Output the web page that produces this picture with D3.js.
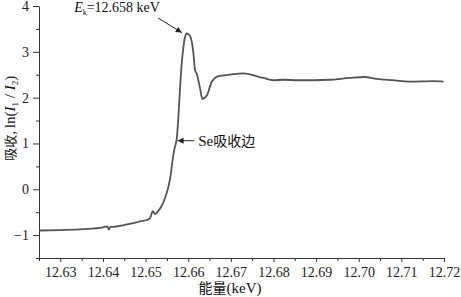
<!DOCTYPE html>
<html>
<head>
<meta charset="utf-8">
<script src="https://cdn.jsdelivr.net/npm/d3@7"></script>
<style>
body { margin: 0; background: #fff; }
svg { display: block; }
.axis text { font-family: "Liberation Serif", "Times New Roman", serif; font-size: 14px; fill: #222; }
.axis path, .axis line { stroke: #333; stroke-width: 1; }
</style>
</head>
<body>
<div id="chart"></div>
<script>
// XAS spectrum around Se K-edge
var energy = [12.6251, 12.6300, 12.6354, 12.6400, 12.6410, 12.6414, 12.6418, 12.6424, 12.6450, 12.6471,
    12.6487, 12.6503, 12.6511, 12.6517, 12.6522, 12.6530, 12.6538, 12.6546, 12.6554, 12.6559,
    12.6563, 12.6567, 12.6573, 12.6585, 12.6592, 12.6597, 12.6604, 12.6612, 12.6616, 12.6620,
    12.6628, 12.6633, 12.6644, 12.6655, 12.6671, 12.6698, 12.6729, 12.6776, 12.6800, 12.6822,
    12.6860, 12.6893, 12.6932, 12.6979, 12.7014, 12.7042, 12.7080, 12.7120, 12.7174, 12.7199];
var absorb = [-0.90, -0.89, -0.87, -0.83, -0.81, -0.88, -0.82, -0.82, -0.78, -0.74,
    -0.70, -0.67, -0.62, -0.48, -0.54, -0.47, -0.36, -0.18, 0.07, 0.32,
    0.61, 0.85, 1.10, 2.77, 3.30, 3.40, 3.35, 2.99, 2.60, 2.52,
    2.19, 1.97, 2.05, 2.34, 2.47, 2.50, 2.53, 2.43, 2.38, 2.39,
    2.38, 2.38, 2.39, 2.43, 2.45, 2.41, 2.38, 2.35, 2.36, 2.35];

var xTicks = [12.63, 12.64, 12.65, 12.66, 12.67, 12.68, 12.69, 12.70, 12.71, 12.72];
var xMinor = [12.625, 12.635, 12.645, 12.655, 12.665, 12.675, 12.685, 12.695, 12.705, 12.715];
var yTicks = [-1, 0, 1, 2, 3, 4];
var yMinor = [-1.5, -0.5, 0.5, 1.5, 2.5, 3.5];

var edgeLabel = {x0: 12.6529, y0: 3.74, x1: 12.6585, y1: 3.42};
var seLabel = {x0: 12.6614, x1: 12.6575, y: 1.06};

var width = 461, height = 297;
var margin = {top: 6, left: 39, bottom: 39, right: 17};

var svg = d3.select("#chart").append("svg")
    .attr("width", width)
    .attr("height", height);

var x = d3.scaleLinear()
    .domain([12.625, 12.72])
    .range([margin.left, width - margin.right]);

var y = d3.scaleLinear()
    .domain([-1.5, 4])
    .range([height - margin.bottom, margin.top]);

// minor ticks
svg.append("g").attr("class", "axis")
    .attr("transform", "translate(0," + y(-1.5) + ")")
    .call(d3.axisBottom(x).tickValues(xMinor).tickSize(3).tickSizeOuter(0).tickFormat(""))
    .select(".domain").remove();
svg.append("g").attr("class", "axis")
    .attr("transform", "translate(" + x(12.625) + ",0)")
    .call(d3.axisLeft(y).tickValues(yMinor).tickSize(3).tickSizeOuter(0).tickFormat(""))
    .select(".domain").remove();

svg.append("g").attr("class", "axis")
    .attr("transform", "translate(0," + y(-1.5) + ")")
    .call(d3.axisBottom(x).tickValues(xTicks).tickSize(4).tickSizeOuter(0).tickPadding(5)
        .tickFormat(d3.format(".2f")));

svg.append("g").attr("class", "axis")
    .attr("transform", "translate(" + x(12.625) + ",0)")
    .call(d3.axisLeft(y).tickValues(yTicks).tickSize(6).tickSizeOuter(0).tickPadding(4)
        .tickFormat(function(d) { return d < 0 ? "\u2212" + Math.abs(d) : d; }));

var line = d3.line()
    .x(function(d, i) { return x(energy[i]); })
    .y(function(d) { return y(d); })
    .curve(d3.curveMonotoneX);

svg.append("path")
    .datum(absorb)
    .attr("fill", "none")
    .attr("stroke", "#555")
    .attr("stroke-width", 1.8)
    .attr("d", line);

// arrow marker
svg.append("defs").append("marker")
    .attr("id", "arrow")
    .attr("viewBox", "0 0 10 10")
    .attr("refX", 10).attr("refY", 5)
    .attr("markerWidth", 8).attr("markerHeight", 6)
    .attr("markerUnits", "userSpaceOnUse")
    .attr("orient", "auto")
    .append("path").attr("d", "M0,0L10,5L0,10z").attr("fill", "#222");

svg.append("line")
    .attr("x1", x(edgeLabel.x0)).attr("y1", y(edgeLabel.y0))
    .attr("x2", x(edgeLabel.x1)).attr("y2", y(edgeLabel.y1))
    .attr("stroke", "#222").attr("stroke-width", 1)
    .attr("marker-end", "url(#arrow)");

var ek = svg.append("text")
    .attr("x", x(edgeLabel.x0) + 2).attr("y", 12)
    .attr("text-anchor", "end")
    .style("font-family", "'Liberation Serif', 'Times New Roman', serif")
    .style("font-size", "14px")
    .attr("fill", "#111");
ek.append("tspan").style("font-style", "italic").text("E");
ek.append("tspan").attr("dy", 3).style("font-size", "8px").text("k");
ek.append("tspan").attr("dy", -3).text("=12.658 keV");

svg.append("line")
    .attr("x1", x(seLabel.x0)).attr("y1", y(seLabel.y))
    .attr("x2", x(seLabel.x1)).attr("y2", y(seLabel.y))
    .attr("stroke", "#222").attr("stroke-width", 1)
    .attr("marker-end", "url(#arrow)");

var se = svg.append("text")
    .attr("x", x(seLabel.x0) + 4).attr("y", y(seLabel.y) + 5)
    .style("font-size", "15px")
    .attr("fill", "#111");
se.append("tspan").style("font-family", "'Liberation Serif', serif").text("Se");
se.append("tspan").style("font-family", "'Noto Sans CJK SC', sans-serif").style("font-size", "14px").text("吸收边");

// axis titles
var yl = svg.append("text")
    .attr("transform", "translate(15," + y(1.55) + ") rotate(-90)")
    .attr("text-anchor", "middle")
    .style("font-family", "'Liberation Serif', serif")
    .style("font-size", "15px")
    .attr("fill", "#111");
yl.append("tspan").style("font-family", "'Noto Sans CJK SC', sans-serif").style("font-size", "13px").text("吸收, ");
yl.append("tspan").text("ln(");
yl.append("tspan").style("font-style", "italic").text("I");
yl.append("tspan").attr("dy", 3).style("font-size", "9px").text("1");
yl.append("tspan").attr("dy", -3).text(" / ");
yl.append("tspan").style("font-style", "italic").text("I");
yl.append("tspan").attr("dy", 3).style("font-size", "9px").text("2");
yl.append("tspan").attr("dy", -3).text(")");

var xl = svg.append("text")
    .attr("x", x(12.6698)).attr("y", 293)
    .attr("text-anchor", "middle")
    .style("font-size", "15px")
    .attr("fill", "#111");
xl.append("tspan").style("font-family", "'Noto Sans CJK SC', sans-serif").style("font-size", "14px").text("能量");
xl.append("tspan").style("font-family", "'Liberation Serif', serif").text("(keV)");
</script>
</body>
</html>
